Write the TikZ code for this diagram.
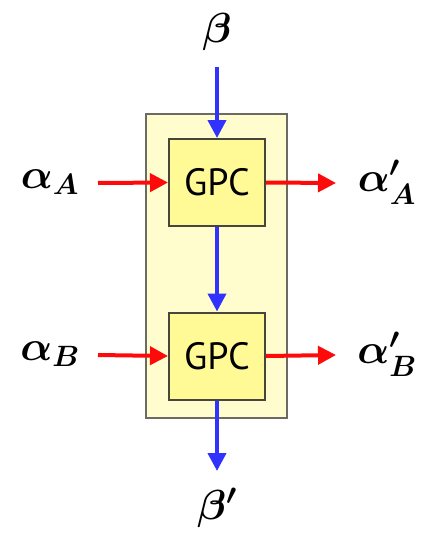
\RequirePackage{fix-cm}
\documentclass[tikz,border=0pt]{standalone}
\usepackage{amsmath, amssymb}
\usepackage{fontspec}
\newfontfamily\gpcfont{PT Sans}
\usepackage{xcolor}
\usetikzlibrary{arrows.meta, positioning}
\definecolor{gpcred}{RGB}{255, 10, 10}
\definecolor{gpcblue}{RGB}{50, 50, 255}
\definecolor{outeryellow}{RGB}{255, 252, 205}
\definecolor{inneryellow}{RGB}{255, 250, 150}
\definecolor{boxgray}{RGB}{70, 70, 60}

\begin{document}
\begin{tikzpicture}[x=1pt, y=-1pt,
    outerbox/.style={rectangle, draw=boxgray!80, fill=outeryellow, line width=2pt, minimum width=141pt, minimum height=304pt},
    gpcbox/.style={rectangle, draw=boxgray, fill=inneryellow, line width=2pt, minimum width=96pt, minimum height=87pt, font=\gpcfont\fontsize{38}{42}\selectfont},
    label/.style={font=\fontsize{42}{46}\selectfont\boldmath},
    redarrow/.style={-{Triangle[length=18pt, width=18pt]}, line width=4pt, color=gpcred},
    bluearrow/.style={-{Triangle[length=18pt, width=18pt]}, line width=4pt, color=gpcblue}]

    \useasboundingbox (0,0) rectangle (421,533);

    % Boxes
    \node[outerbox] (frame) at (216.5,266) {};
    \node[gpcbox] (gpc_a) at (217,182.5) {GPC};
    \node[gpcbox] (gpc_b) at (217,356) {GPC};

    % Labels
    \node[label] (beta_in) at (217,32) {$\beta$};
    \node[label] (beta_out) at (217,508) {$\beta'$};
    \node[label] (alpha_a) at (50,182) {$\alpha_A$};
    \node[label] (alpha_a_out) at (387,182) {$\alpha'_A$};
    \node[label] (alpha_b) at (50,354) {$\alpha_B$};
    \node[label] (alpha_b_out) at (387,354) {$\alpha'_B$};

    % Arrow ends
    \coordinate (b_top) at (217,67);
    \coordinate (b_bot) at (217,471);
    \coordinate (a_left) at (98,183);
    \coordinate (a_right) at (336,183);
    \coordinate (bb_left) at (98,355);
    \coordinate (bb_right) at (336,355);

    % Links
    \draw[bluearrow] (b_top) -- (gpc_a.north);
    \draw[bluearrow] (gpc_a.south) -- (gpc_b.north);
    \draw[bluearrow] (gpc_b.south) -- (b_bot);
    \draw[redarrow] (a_left) -- (gpc_a.west);
    \draw[redarrow] (gpc_a.east) -- (a_right);
    \draw[redarrow] (bb_left) -- (gpc_b.west);
    \draw[redarrow] (gpc_b.east) -- (bb_right);
\end{tikzpicture}
\end{document}
